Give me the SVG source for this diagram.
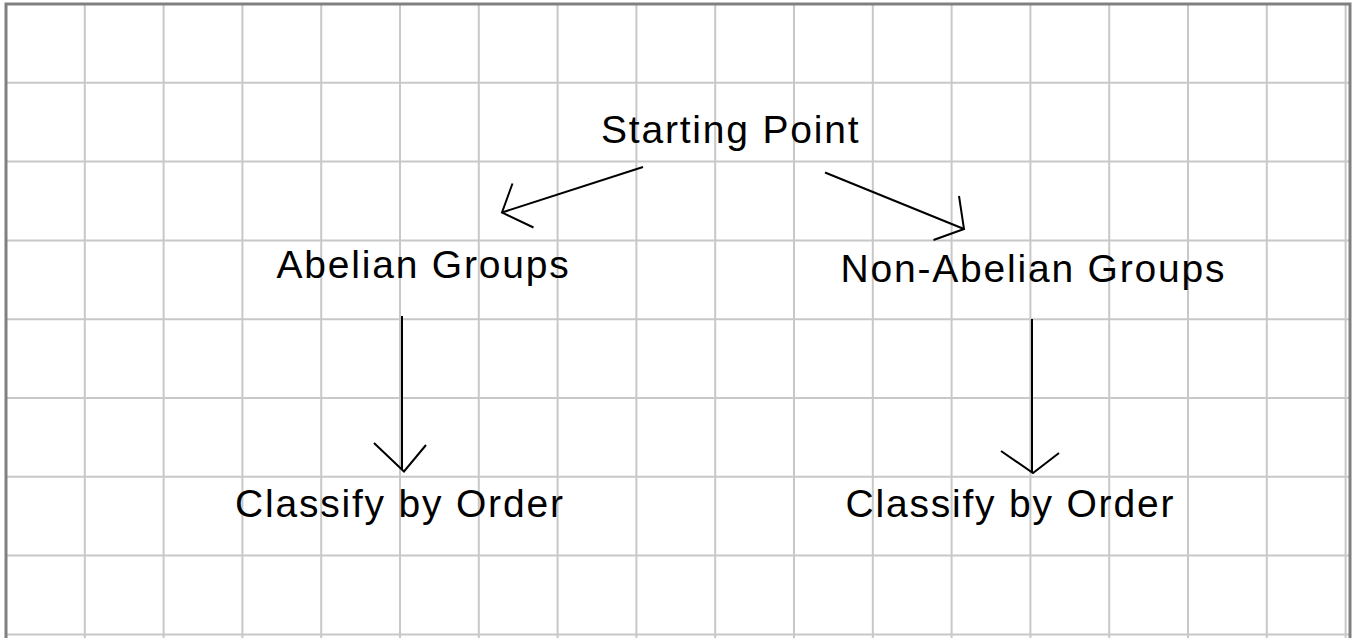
<svg xmlns="http://www.w3.org/2000/svg" width="1352" height="638" viewBox="0 0 1352 638">
<style>
.grid line{stroke:#c8c8c8;stroke-width:2}
.lbl{font-family:"Liberation Sans",Arial,sans-serif;font-size:39px;letter-spacing:1.8px;fill:#000}
.conn line,.conn polyline{stroke:#000;stroke-width:2;fill:none}
</style>
<rect width="1352" height="638" fill="#fff"/>
<g class="grid" id="grid">
<line x1="84.8" y1="4" x2="84.8" y2="638"/>
<line x1="163.6" y1="4" x2="163.6" y2="638"/>
<line x1="242.4" y1="4" x2="242.4" y2="638"/>
<line x1="321.2" y1="4" x2="321.2" y2="638"/>
<line x1="400" y1="4" x2="400" y2="638"/>
<line x1="478.8" y1="4" x2="478.8" y2="638"/>
<line x1="557.6" y1="4" x2="557.6" y2="638"/>
<line x1="636.4" y1="4" x2="636.4" y2="638"/>
<line x1="715.2" y1="4" x2="715.2" y2="638"/>
<line x1="794" y1="4" x2="794" y2="638"/>
<line x1="872.8" y1="4" x2="872.8" y2="638"/>
<line x1="951.6" y1="4" x2="951.6" y2="638"/>
<line x1="1030.4" y1="4" x2="1030.4" y2="638"/>
<line x1="1109.2" y1="4" x2="1109.2" y2="638"/>
<line x1="1188" y1="4" x2="1188" y2="638"/>
<line x1="1266.8" y1="4" x2="1266.8" y2="638"/>
<line x1="1345.6" y1="4" x2="1345.6" y2="638"/>
<line x1="6" y1="82.8" x2="1350" y2="82.8"/>
<line x1="6" y1="161.6" x2="1350" y2="161.6"/>
<line x1="6" y1="240.4" x2="1350" y2="240.4"/>
<line x1="6" y1="319.2" x2="1350" y2="319.2"/>
<line x1="6" y1="398" x2="1350" y2="398"/>
<line x1="6" y1="476.8" x2="1350" y2="476.8"/>
<line x1="6" y1="555.6" x2="1350" y2="555.6"/>
<line x1="6" y1="634.4" x2="1350" y2="634.4"/>
</g>
<rect x="6" y="4" width="1344" height="640" fill="none" stroke="#808080" stroke-width="3"/>
<g class="conn" id="connectors">
<line x1="643" y1="167" x2="502" y2="212.5"/>
<polyline points="512.5,183.5 502,212.5 533.5,227.5"/>
<line x1="825" y1="172.5" x2="964" y2="229"/>
<polyline points="959,196 964,229 933.5,240"/>
<line x1="402" y1="316" x2="402" y2="470"/>
<polyline points="374,443 404,471.5 426,445"/>
<line x1="1032" y1="319" x2="1032" y2="472"/>
<polyline points="1001,451 1033,473 1059,453"/>
</g>
<g id="start"><text class="lbl" x="601" y="143">Starting Point</text></g>
<g id="abelian"><text class="lbl" x="276.5" y="278">Abelian Groups</text></g>
<g id="nonabelian"><text class="lbl" x="840.5" y="282">Non-Abelian Groups</text></g>
<g id="classify1"><text class="lbl" x="235" y="517">Classify by Order</text></g>
<g id="classify2"><text class="lbl" x="845.5" y="517">Classify by Order</text></g>
</svg>
